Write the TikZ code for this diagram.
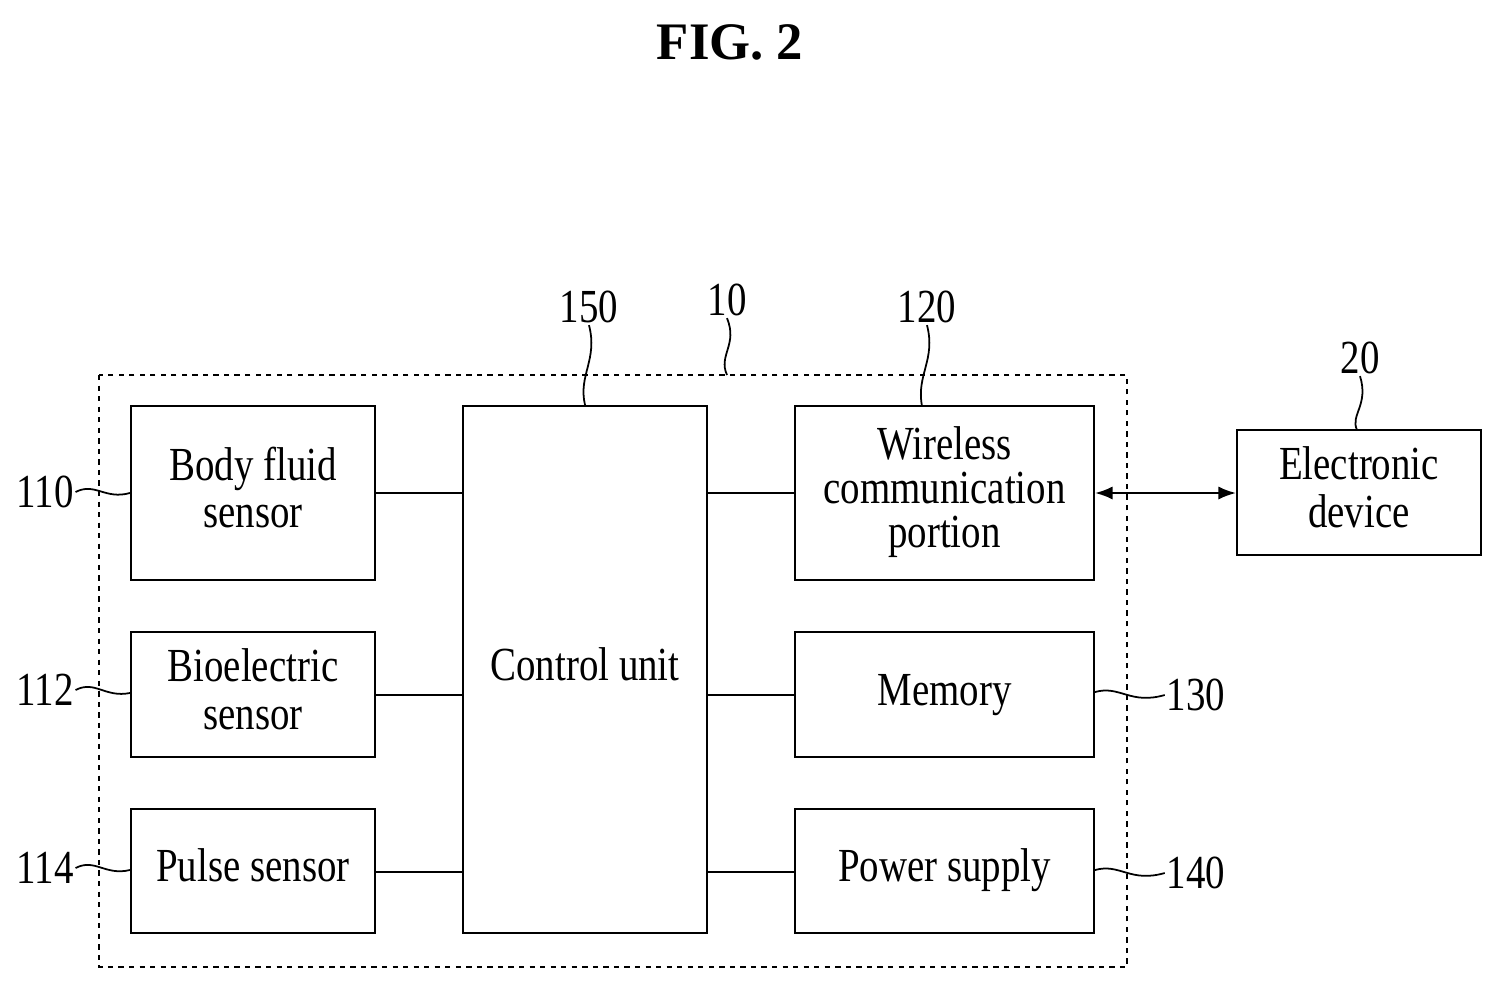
\documentclass[tikz,border=0pt]{standalone}
\usepackage{fontspec}
\setmainfont{Liberation Serif}
\usetikzlibrary{arrows.meta}
\begin{document}
\begin{tikzpicture}[x=0.02cm,y=-0.02cm,
 box/.style={draw,line width=1.2pt,inner sep=0,align=center},
 txt/.style={font=\fontsize{27}{31}\selectfont},
 lab/.style={font=\fontsize{27}{31}\selectfont,inner sep=1pt},
 ln/.style={line width=1.2pt}]
\useasboundingbox (0,0) rectangle (1504,988);
\node[font=\bfseries\fontsize{30}{34}\selectfont] (t) at (730,42) {FIG. 2};
\draw[dashed,line width=1.2pt] (99,375) rectangle (1127,967);
\newcommand{\bx}[6]{\node[box,minimum width=#4*0.02cm,minimum height=#5*0.02cm] (#1) at (#2,#3) {};
 \node[txt,align=center] at (#1) {\scalebox{0.82}[1]{\begin{tabular}{c}#6\end{tabular}}};}
\bx{bf}{253}{493}{244}{174}{Body fluid\\[-4pt]sensor}
\bx{be}{253}{694.5}{244}{125}{Bioelectric\\[-4pt]sensor}
\bx{ps}{253}{871}{244}{124}{Pulse sensor}
\bx{cu}{585}{669.5}{244}{527}{Control unit}
\bx{wc}{944.5}{493}{299}{174}{Wireless\\[-6pt]communication\\[-6pt]portion}
\bx{me}{944.5}{694.5}{299}{125}{Memory}
\bx{pw}{944.5}{871}{299}{124}{Power supply}
\bx{ed}{1359}{492.5}{244}{125}{Electronic\\[-4pt]device}
\draw[ln] (bf.east|-0,493) -- (cu.west|-0,493);
\draw[ln] (be.east|-0,695) -- (cu.west|-0,695);
\draw[ln] (ps.east|-0,872) -- (cu.west|-0,872);
\draw[ln] (cu.east|-0,493) -- (wc.west|-0,493);
\draw[ln] (cu.east|-0,695) -- (me.west|-0,695);
\draw[ln] (cu.east|-0,872) -- (pw.west|-0,872);
\draw[ln,{Latex[length=10pt]}-{Latex[length=10pt]}] (wc.east|-0,493) -- (ed.west|-0,493);
\node[lab] (l110) at (45,492) {\scalebox{0.82}[1]{110}};
\node[lab] (l112) at (45,690) {\scalebox{0.82}[1]{112}};
\node[lab] (l114) at (45,868) {\scalebox{0.82}[1]{114}};
\node[lab] (l130) at (1196,695) {\scalebox{0.82}[1]{130}};
\node[lab] (l140) at (1196,873) {\scalebox{0.82}[1]{140}};
\node[lab] (l150) at (589,307) {\scalebox{0.82}[1]{150}};
\node[lab] (l10) at (727,300) {\scalebox{0.82}[1]{10}};
\node[lab] (l120) at (927,307) {\scalebox{0.82}[1]{120}};
\node[lab] (l20) at (1360,358) {\scalebox{0.82}[1]{20}};
\draw[line width=1pt] (l110.east) .. controls (95,482) and (105,500) .. (bf.west|-0,493);
\draw[line width=1pt] (l112.east) .. controls (95,680) and (105,698) .. (be.west|-0,693);
\draw[line width=1pt] (l114.east) .. controls (95,858) and (105,876) .. (ps.west|-0,870);
\draw[line width=1pt] (me.east|-0,692) .. controls (1120,685) and (1130,705) .. (l130.west);
\draw[line width=1pt] (pw.east|-0,870) .. controls (1120,863) and (1130,883) .. (l140.west);
\draw[line width=1pt] (l150.south) .. controls (598,360) and (578,375) .. (cu.north);
\draw[line width=1pt] (l10.south) .. controls (738,345) and (718,355) .. (727,375);
\draw[line width=1pt] (l120.south) .. controls (936,360) and (916,375) .. (922,406);
\draw[line width=1pt] (l20.south) .. controls (1369,405) and (1350,415) .. (1357,430);
\end{tikzpicture}
\end{document}
